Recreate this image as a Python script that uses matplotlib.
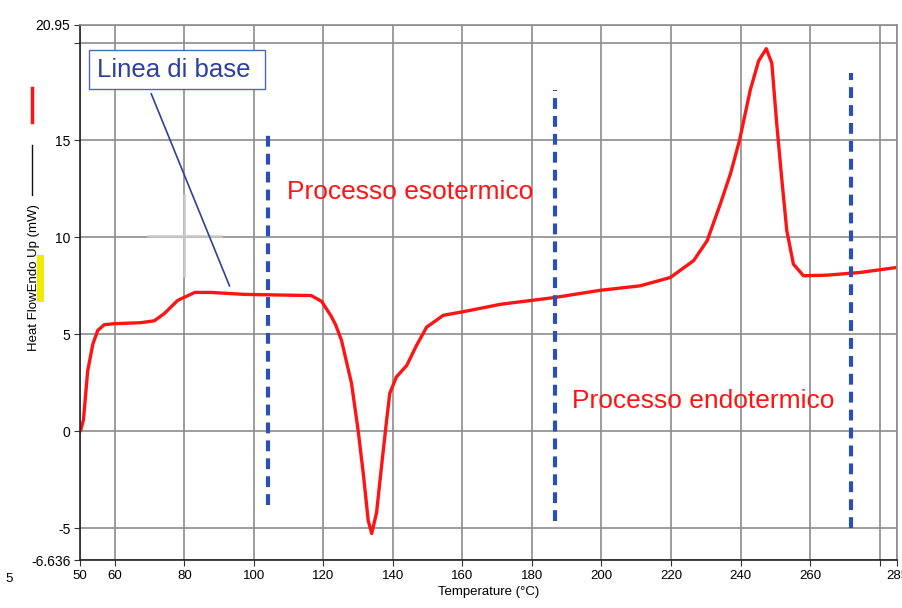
import matplotlib
matplotlib.use("Agg")
import matplotlib.pyplot as plt

# ---- data ----
temperature = [50, 50.2, 51, 52.2, 53.7, 55.1, 57, 60, 67.5, 71.4, 74.3, 78.1, 83, 87.7,
               97.3, 110, 116.5, 119.5, 122.2, 123.5, 125.2, 128.1, 130, 131.5, 132.9,
               133.9, 135.3, 136.7, 138.2, 139.1, 141, 144, 146.8, 149.7, 154.5, 161.2,
               171, 186.6, 199.6, 211.1, 219.8, 226.5, 230.4, 234.2, 237.1, 239.7, 242.8,
               245.2, 247.4, 249, 250.4, 251.9, 253.3, 255.2, 258.1, 264.8, 274.4, 285]
heat_flow = [0, 0.05, 0.6, 3.1, 4.5, 5.2, 5.5, 5.55, 5.6, 5.7, 6.08, 6.75, 7.16, 7.16,
             7.06, 7.02, 7.0, 6.7, 5.95, 5.5, 4.7, 2.47, 0.05, -2.2, -4.6,
             -5.27, -4.2, -1.85, 0.57, 1.96, 2.8, 3.4, 4.43, 5.37, 5.98, 6.2,
             6.55, 6.9, 7.27, 7.5, 7.93, 8.8, 9.83, 11.73, 13.28, 15, 17.6,
             19.1, 19.73, 18.97, 15.87, 12.93, 10.35, 8.62, 8.02, 8.05, 8.19, 8.45]

marker_x = [104, 186.6, 271.8]
marker_top = [15.6, 17.6, 18.45]
marker_bottom = [-3.8, -4.6, -5.0]

xticks = [50, 60, 80, 100, 120, 140, 160, 180, 200, 220, 240, 260, 280, 285]
xtick_labels = ["50", "60", "80", "100", "120", "140", "160", "180", "200", "220",
                "240", "260", "", "285"]
yticks = [-6.636, -5, 0, 5, 10, 15, 20, 20.95]
ytick_labels = ["-6.636", "-5", "0", "5", "10", "15", "", "20.95"]
xmin, xmax = 50, 285
ymin, ymax = -6.636, 20.95

plt.rcParams['font.family'] = ['Liberation Sans', 'DejaVu Sans']

fig = plt.figure(figsize=(9.02, 6.08), dpi=100)
ax = fig.add_axes([80/902, 48/608, 817/902, 535/608])
ax.set_xlim(xmin, xmax)
ax.set_ylim(ymin, ymax)

ax.set_xticks(xticks)
ax.set_xticklabels(xtick_labels, fontsize=9.5)
ax.set_yticks(yticks)
ax.set_yticklabels(ytick_labels, fontsize=10)
ax.tick_params(axis='both', direction='out', length=4, color='#333333', pad=3)
ax.grid(True, color='#8c8c8c', linewidth=1.2)
ax.set_axisbelow(True)
for s in ['top', 'right']:
    ax.spines[s].set_color('#8c8c8c')
    ax.spines[s].set_linewidth(1.2)
for s in ['left', 'bottom']:
    ax.spines[s].set_color('#222222')
    ax.spines[s].set_linewidth(1.2)

# cursor crosshair artefact
ax.plot([80, 80], [8.0, 12.2], color='#c8c8c8', linewidth=1.8)
ax.plot([69.5, 90.5], [10.05, 10.05], color='#c8c8c8', linewidth=1.8)

ax.plot(temperature, heat_flow, color='#ff1414', linewidth=2.4, solid_joinstyle='round')

ax.vlines(marker_x, marker_bottom, marker_top, colors='#2a4fb5', linewidth=3,
          linestyles=(0, (2.6, 1.7)))

ax.text(109.5, 12.35, "Processo esotermico", color='#ff1414', fontsize=19,
        va='center', ha='left')
ax.text(191.4, 1.55, "Processo endotermico", color='#ff1414', fontsize=19,
        va='center', ha='left')

ax.text(54.8, 18.65, "Linea di base ", color='#2e3fa0', fontsize=18.5, va='center', ha='left',
        bbox=dict(boxstyle='square,pad=0.3', facecolor='white', edgecolor='#4a6ab8',
                  linewidth=1))
ax.plot([70.5, 93.0], [17.4, 7.5], color='#2e3fa0', linewidth=1.2)

ax.set_xlabel("Temperature (°C)", fontsize=9.5, labelpad=3)

# y label with legend-like line segments
fig.patches.append(plt.Rectangle((37/902, 1 - 302/608), 7/902, 47/608,
                                 transform=fig.transFigure, facecolor='#f2ea00',
                                 edgecolor='none', zorder=-1))
fig.text(34/902, 1 - 278/608, "Heat FlowEndo Up (mW)", rotation=90, fontsize=9.5,
         ha='center', va='center')
fig.add_artist(plt.Line2D([32/902, 32/902], [1 - 122/608, 1 - 88/608],
                          color='#ff1414', linewidth=2.5, transform=fig.transFigure))
fig.add_artist(plt.Line2D([32/902, 32/902], [1 - 195/608, 1 - 145/608],
                          color='#111111', linewidth=1.0, transform=fig.transFigure))
fig.text(5/902, 1 - 579/608, "5", fontsize=9.5, ha='left', va='center')

fig.savefig("out.png", dpi=100)
